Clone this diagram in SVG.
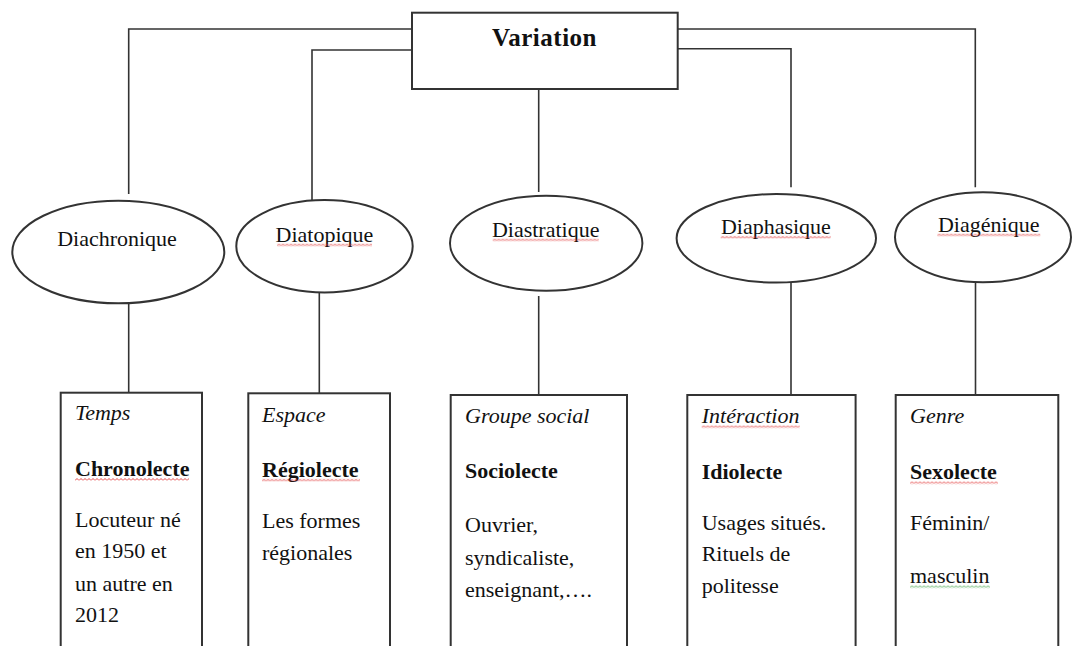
<svg xmlns="http://www.w3.org/2000/svg" width="1075" height="646" viewBox="0 0 1075 646">
<style>
.bg{fill:#ffffff}
.shape{fill:#ffffff;stroke:#333333;stroke-width:2}
.conn{fill:none;stroke:#333333;stroke-width:1.6}
text{font-family:"Liberation Serif","Times New Roman",serif;font-size:22px;fill:#111111}
.title{font-weight:bold;font-size:25px;letter-spacing:0.5px}
.lbl{text-anchor:middle}
.it{font-style:italic}
.b{font-weight:bold}
.wr{fill:url(#wavyR)}
.wg{fill:url(#wavyG)}
</style>
<defs>
<pattern id="wavyR" patternUnits="userSpaceOnUse" width="4" height="3">
<path d="M0,2.5 L2,0.5 L4,2.5" fill="none" stroke="#e03030" stroke-width="0.9"/>
</pattern>
<pattern id="wavyG" patternUnits="userSpaceOnUse" width="4" height="3">
<path d="M0,2.5 L2,0.5 L4,2.5" fill="none" stroke="#3aa040" stroke-width="0.9"/>
</pattern>
</defs>
<rect class="bg" x="0" y="0" width="1075" height="646"/>

<g id="connectors">
<path class="conn" d="M412,29 H128.7 V194"/>
<path class="conn" d="M412,50 H312 V200"/>
<path class="conn" d="M538.7,89 V192"/>
<path class="conn" d="M677.7,48.7 H791 V187.3"/>
<path class="conn" d="M677.7,29 H975.3 V187.3"/>
<path class="conn" d="M128.7,304 V392.7"/>
<path class="conn" d="M319.3,292.3 V393.3"/>
<path class="conn" d="M538.7,296 V395"/>
<path class="conn" d="M791,282.7 V395"/>
<path class="conn" d="M975.5,282.5 V395"/>
</g>

<g id="variation">
<rect class="shape" x="412" y="12.7" width="265.7" height="76.3"/>
<text class="title lbl" x="544.5" y="45.7">Variation</text>
</g>

<g id="diachronique">
<ellipse class="shape" cx="118.3" cy="252" rx="106" ry="51.3"/>
<text class="lbl" x="117" y="245.7">Diachronique</text>
</g>

<g id="diatopique">
<ellipse class="shape" cx="324.5" cy="246.2" rx="88.2" ry="46.2"/>
<text class="lbl" x="324.5" y="241.7">Diatopique</text>
<g transform="translate(277,243.5)"><rect class="wr" x="0" y="0" width="95" height="3"/></g>
</g>

<g id="diastratique">
<ellipse class="shape" cx="546.2" cy="243.2" rx="96.2" ry="47.5"/>
<text class="lbl" x="545.7" y="236.7">Diastratique</text>
<g transform="translate(492.7,238.5)"><rect class="wr" x="0" y="0" width="106" height="3"/></g>
</g>

<g id="diaphasique">
<ellipse class="shape" cx="776.3" cy="238.3" rx="99.7" ry="44.3"/>
<text class="lbl" x="775.9" y="234">Diaphasique</text>
<g transform="translate(720.7,235.8)"><rect class="wr" x="0" y="0" width="110" height="3"/></g>
</g>

<g id="diagenique">
<ellipse class="shape" cx="983" cy="237.3" rx="88" ry="45"/>
<text class="lbl" x="988.7" y="231.7">Diagénique</text>
<g transform="translate(937.3,233.5)"><rect class="wr" x="0" y="0" width="103" height="3"/></g>
</g>

<g id="chronolecte">
<rect class="shape" x="60.7" y="392.7" width="141.3" height="300"/>
<text class="it" x="75" y="420">Temps</text>
<text class="b" x="75" y="476">Chronolecte</text>
<g transform="translate(75,478)"><rect class="wr" x="0" y="0" width="114" height="3"/></g>
<text x="75" y="526.7">Locuteur né</text>
<text x="75" y="558.3">en 1950 et</text>
<text x="75" y="590.7">un autre en</text>
<text x="75" y="621.7">2012</text>
</g>

<g id="regiolecte">
<rect class="shape" x="248.3" y="393.3" width="141.7" height="300"/>
<text class="it" x="262" y="422.3">Espace</text>
<text class="b" x="262" y="476.7">Régiolecte</text>
<g transform="translate(262,478.7)"><rect class="wr" x="0" y="0" width="98" height="3"/></g>
<text x="262" y="528.3">Les formes</text>
<text x="262" y="560">régionales</text>
</g>

<g id="sociolecte">
<rect class="shape" x="450.7" y="395" width="176.3" height="300"/>
<text class="it" x="465" y="423">Groupe social</text>
<text class="b" x="465" y="478.3">Sociolecte</text>
<text x="465" y="532">Ouvrier,</text>
<text x="465" y="564.5">syndicaliste,</text>
<text x="465" y="597">enseignant,….</text>
</g>

<g id="idiolecte">
<rect class="shape" x="687.3" y="395" width="168.3" height="300"/>
<text class="it" x="701.7" y="423.3">Intéraction</text>
<g transform="translate(701.7,425.3)"><rect class="wr" x="0" y="0" width="98" height="3"/></g>
<text class="b" x="701.7" y="479.3">Idiolecte</text>
<text x="701.7" y="530">Usages situés.</text>
<text x="701.7" y="560.7">Rituels de</text>
<text x="701.7" y="592.7">politesse</text>
</g>

<g id="sexolecte">
<rect class="shape" x="895.7" y="395" width="162.6" height="300"/>
<text class="it" x="910" y="423.3">Genre</text>
<text class="b" x="910" y="479.3">Sexolecte</text>
<g transform="translate(910,481.3)"><rect class="wr" x="0" y="0" width="88" height="3"/></g>
<text x="910" y="530">Féminin/</text>
<text x="910" y="583.3">masculin</text>
<g transform="translate(910,585.3)"><rect class="wg" x="0" y="0" width="80" height="3"/></g>
</g>
</svg>
